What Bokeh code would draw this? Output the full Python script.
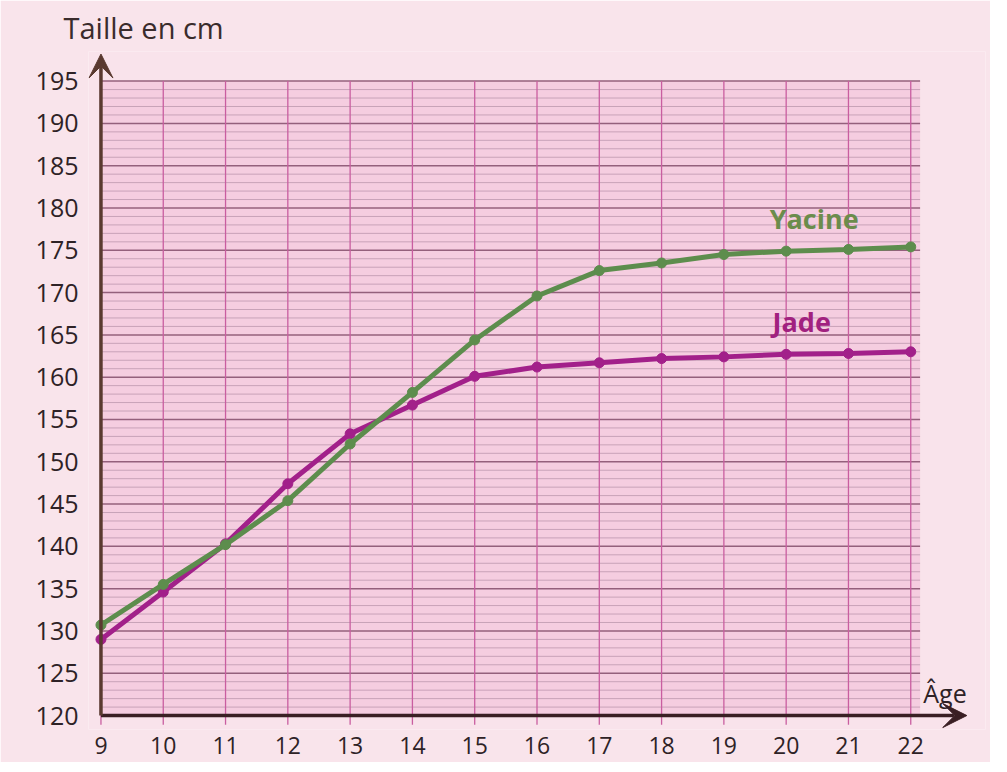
from bokeh.plotting import figure
from bokeh.models import FixedTicker, Arrow, VeeHead
from bokeh.core.properties import value
from bokeh.embed import file_html
from bokeh.resources import INLINE

# ---- data ----
ages = list(range(9, 23))
jade = [129.0, 134.6, 140.3, 147.4, 153.3, 156.7, 160.1, 161.2, 161.7, 162.2, 162.4, 162.7, 162.8, 163.0]
yacine = [130.7, 135.5, 140.2, 145.4, 152.1, 158.2, 164.4, 169.6, 172.6, 173.5, 174.5, 174.9, 175.1, 175.4]
y_ticks = list(range(120, 200, 5))
x_ticks = ages
cm_lines = list(range(120, 196))
series_names = ["Jade", "Yacine"]

# ---- styles ----
FONT = "Open Sans"
TXT = "#2e2226"
JADE_C = "#a2208a"
YAC_C = "#5d8d4d"
x0 = min(ages)
y0 = min(cm_lines)
x_end = max(ages) + 0.15
y_top = max(cm_lines)

p = figure(width=990, height=762, x_range=(8.8, 23.2), y_range=(118.35, 198.5),
           output_backend="svg", toolbar_location=None,
           min_border_left=88, min_border_right=5, min_border_top=46, min_border_bottom=33)
p.background_fill_color = "#f9e3eb"
p.border_fill_color = "#f9e4eb"
p.outline_line_color = None
p.xgrid.visible = False
p.ygrid.visible = False

p.title.text = "Taille en cm"
p.title.align = "left"
p.title.offset = -25
p.title.text_font = FONT
p.title.text_font_size = "29px"
p.title.text_font_style = "normal"
p.title.text_color = "#3a2c2c"

# grid area
p.quad(left=[x0], right=[x_end], bottom=[y0], top=[y_top],
       fill_color="#f5cde0", line_color=None)
minor = [c for c in cm_lines if c % 5]
major = [c for c in cm_lines if c % 5 == 0]
p.segment(x0=x0, y0=minor, x1=x_end, y1=minor, line_color="#c8a2b8", line_width=1)
p.segment(x0=x0, y0=major, x1=x_end, y1=major, line_color="#94607c", line_width=1.5)
p.segment(x0=ages, y0=y0 - 1.1, x1=ages, y1=y_top, line_color="#c95ea0", line_width=1.3)

# axes (labels only; axis lines are the arrows)
p.xaxis.ticker = FixedTicker(ticks=x_ticks)
p.yaxis.ticker = FixedTicker(ticks=y_ticks)
for ax in (p.xaxis, p.yaxis):
    ax.axis_line_color = None
    ax.minor_tick_line_color = None
    ax.major_tick_line_color = None
    ax.major_label_text_font = FONT
    ax.major_label_text_color = TXT
p.xaxis.major_label_text_font_size = "23px"
p.yaxis.major_label_text_font_size = "25px"
p.xaxis.major_label_standoff = 1
p.yaxis.major_label_standoff = 4

# axis arrows
p.add_layout(Arrow(end=VeeHead(size=24, fill_color="#3a1f24", line_color="#3a1f24", line_width=1),
                   x_start=x0, y_start=y0, x_end=22.9, y_end=y0,
                   line_width=3.5, line_color="#3a1f24"))
p.add_layout(Arrow(end=VeeHead(size=24, fill_color="#5a3a30", line_color="#5a3a30", line_width=1),
                   x_start=x0, y_start=y0, x_end=x0, y_end=198.2,
                   line_width=3.5, line_color="#5a3a30"))

# series
p.line(ages, jade, line_width=5, line_color=JADE_C)
p.scatter(ages, jade, size=10, fill_color=JADE_C, line_color=JADE_C)
p.line(ages, yacine, line_width=5, line_color=YAC_C)
p.scatter(ages, yacine, size=10, fill_color=YAC_C, line_color=YAC_C)

# labels
p.text(x=[20.45], y=[178.8], text=[series_names[1]], text_font=value(FONT),
       text_font_style="bold", text_font_size="27px", text_color="#6b8c4c",
       text_align="center", text_baseline="middle")
p.text(x=[20.25], y=[166.6], text=[series_names[0]], text_font=value(FONT),
       text_font_style="bold", text_font_size="27px", text_color="#a1217f",
       text_align="center", text_baseline="middle")
p.text(x=[22.55], y=[122.7], text=["Âge"], text_font=value(FONT),
       text_font_size="25px", text_color=TXT, text_align="center", text_baseline="alphabetic")

open("out.html", "w").write(file_html(p, INLINE))
